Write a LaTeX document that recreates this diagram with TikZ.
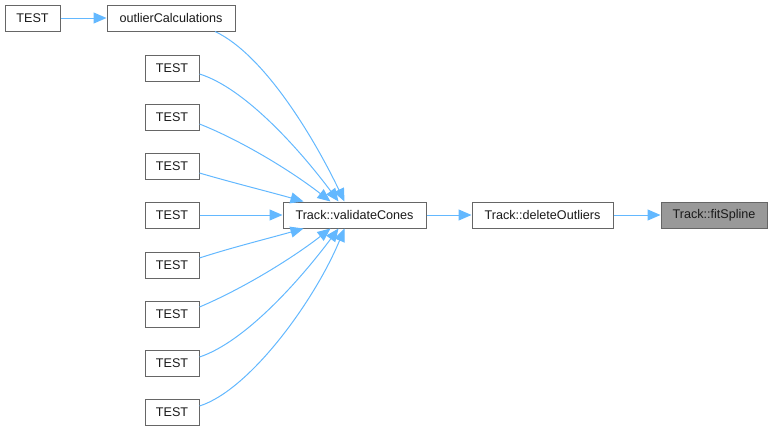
\documentclass[tikz,border=0pt]{standalone}
\usepackage{fontspec}
\setmainfont{Liberation Sans}
\usetikzlibrary{arrows.meta}
\definecolor{cgline}{HTML}{63B8FF}
\definecolor{cgborder}{HTML}{666666}
\definecolor{cgfill}{HTML}{999999}
\definecolor{cgtext}{HTML}{1A1A1A}
\tikzset{cgbox/.style={draw=cgborder,fill=white,line width=1pt,inner sep=0pt,minimum height=26pt,text=cgtext,font=\fontsize{12.6pt}{14pt}\selectfont},
         cghl/.style={cgbox,fill=cgfill},
         cgedge/.style={draw=cgline,line width=1pt,-{Triangle[length=13pt,width=11pt]}}}

\begin{document}
\begin{tikzpicture}[x=1pt,y=-1pt]
  \useasboundingbox (0,0) rectangle (773,431);
  % nodes
  \node[cgbox,minimum width=55pt] (t0) at (32.5,18) {TEST};
  \node[cgbox,minimum width=128pt] (oc) at (171,18) {outlierCalculations};
  \foreach \i/\y in {1/68,2/117,3/166,4/215,5/265,6/314,7/363,8/412}
    \node[cgbox,minimum width=54pt] (t\i) at (172,\y) {TEST};
  \node[cgbox,minimum width=143pt] (vc) at (354.5,215) {Track::validateCones};
  \node[cgbox,minimum width=141pt] (do) at (542.5,215) {Track::deleteOutliers};
  \node[cghl,minimum width=106pt] (fs) at (714,215) {Track::fitSpline};
  % edges
  \draw[cgedge] (t0) -- (oc);
  \draw[cgedge] ([xshift=44pt]oc.south) .. controls (265,55) and (315,140) .. ([xshift=-10pt]vc.north);
  \draw[cgedge] ([yshift=-6pt]t1.east) .. controls (245,88) and (300,150) .. ([xshift=-16pt]vc.north);
  \draw[cgedge] ([yshift=-7pt]t2.east) .. controls (240,140) and (290,170) .. ([xshift=-24pt]vc.north);
  \draw[cgedge] ([yshift=-7pt]t3.east) .. controls (230,182) and (270,192) .. ([xshift=-51pt]vc.north);
  \draw[cgedge] (t4) -- (vc);
  \draw[cgedge] ([yshift=7pt]t5.east) .. controls (230,248) and (270,238) .. ([xshift=-51pt]vc.south);
  \draw[cgedge] ([yshift=7pt]t6.east) .. controls (240,290) and (290,260) .. ([xshift=-24pt]vc.south);
  \draw[cgedge] ([yshift=6pt]t7.east) .. controls (245,342) and (300,280) .. ([xshift=-16pt]vc.south);
  \draw[cgedge] ([yshift=6pt]t8.east) .. controls (250,390) and (315,300) .. ([xshift=-10pt]vc.south);
  \draw[cgedge] (vc) -- (do);
  \draw[cgedge] (do) -- (fs);
\end{tikzpicture}
\end{document}
